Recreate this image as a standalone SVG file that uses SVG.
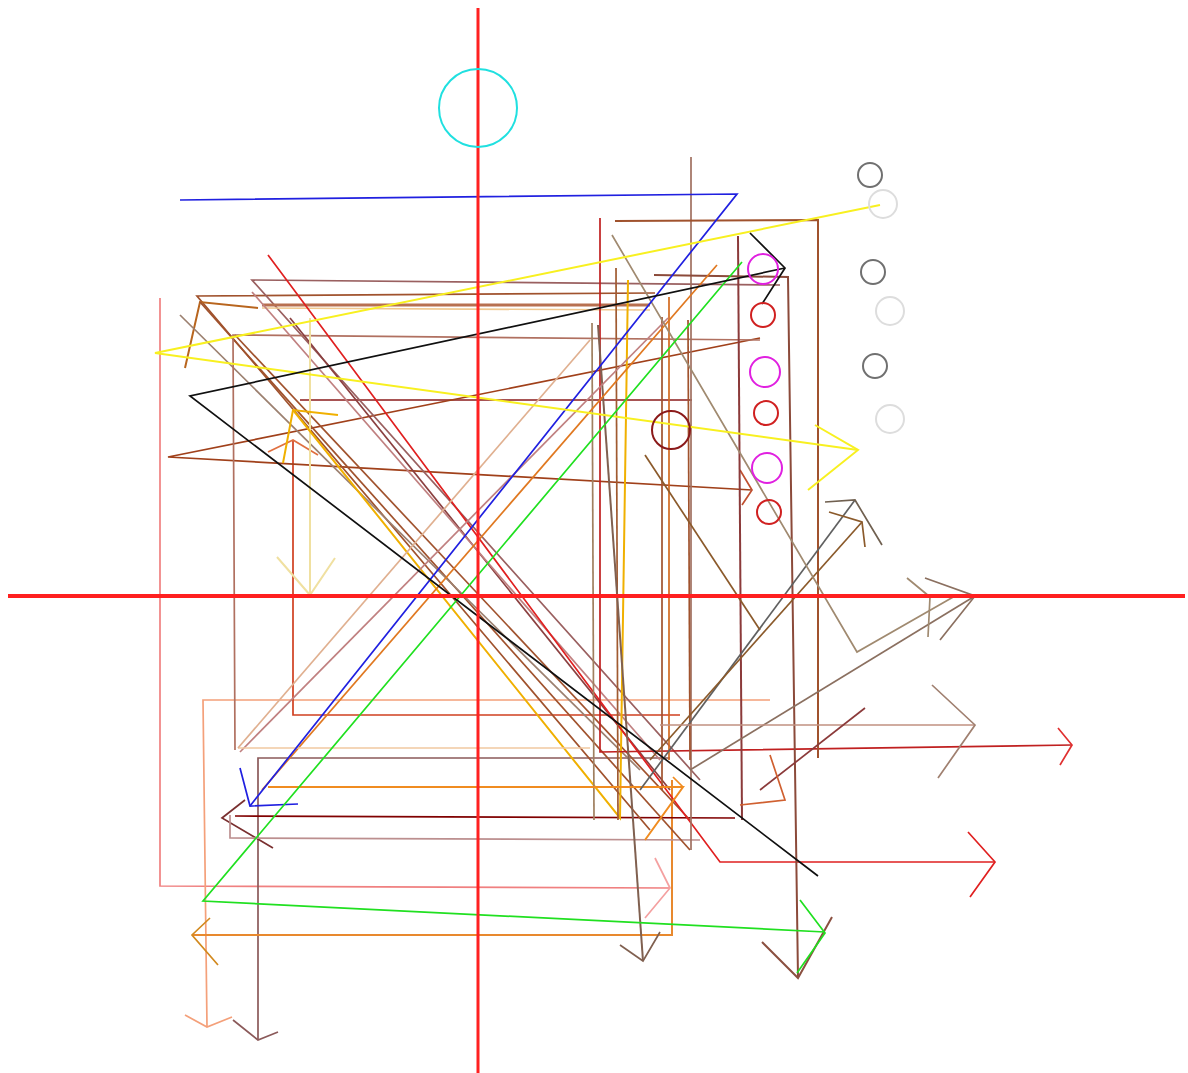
<svg xmlns="http://www.w3.org/2000/svg" width="1188" height="1073" viewBox="0 0 1188 1073">
<style>
.l{fill:none;stroke-width:1.7;stroke-linejoin:miter;stroke-linecap:butt}
.c{fill:none;stroke-width:2}
</style>
<rect width="1188" height="1073" fill="#ffffff"/>
<g id="connectors" class="l">
<polyline points="160,298 160,886 670,888" stroke="#f08080"/>
<polyline points="655,858 670,888 645,918" stroke="#f4a0a0"/>
<polyline points="770,700 203,700 207,1027" stroke="#f4a07a"/>
<polyline points="185,1015 207,1027 232,1017" stroke="#f4a07a"/>
<polyline points="670,758 258,758 258,1040" stroke="#8b5a5a"/>
<polyline points="233,1020 258,1040 278,1032" stroke="#8b5a5a"/>
<polyline points="672,780 672,935 192,935" stroke="#e8892e" stroke-width="2"/>
<polyline points="210,918 192,935 218,965" stroke="#d2891e"/>
<polyline points="735,818 235,816" stroke="#800000"/>
<polyline points="245,800 222,818 273,848" stroke="#7a3030"/>
<polyline points="230,815 230,838 700,840" stroke="#bc8f8f"/>
<polyline points="293,440 293,715 680,715" stroke="#d04020"/>
<polyline points="268,452 293,440 318,455" stroke="#e07040"/>
<line x1="300" y1="400" x2="692" y2="400" stroke="#8b1a1a"/>
<polyline points="760,338 168,457 752,490" stroke="#a0401a"/>
<polyline points="740,470 752,490 742,505" stroke="#c05030"/>
<polyline points="655,293 197,296 650,830" stroke="#a0522d"/>
<polyline points="780,285 252,280 700,780" stroke="#9a6060"/>
<polyline points="185,368 200,302 258,308" stroke="#b8651e" stroke-width="2"/>
<line x1="200" y1="302" x2="690" y2="850" stroke="#a0522d"/>
<line x1="180" y1="315" x2="640" y2="770" stroke="#9c8070"/>
<polyline points="760,340 233,335 235,750" stroke="#b07060"/>
<line x1="262" y1="305" x2="650" y2="305" stroke="#b87050" stroke-width="3"/>
<line x1="262" y1="308" x2="650" y2="310" stroke="#f0c890"/>
<line x1="290" y1="318" x2="670" y2="790" stroke="#8b4040"/>
<line x1="252" y1="292" x2="660" y2="760" stroke="#c08080"/>
<line x1="235" y1="335" x2="690" y2="820" stroke="#a0522d"/>
<line x1="310" y1="318" x2="310" y2="596" stroke="#f0e0a0" stroke-width="2"/>
<polyline points="277,557 310,595 335,558" stroke="#f0e0a0" stroke-width="2"/>
<polyline points="283,463 293,410 338,415" stroke="#f0b000" stroke-width="2"/>
<polyline points="293,410 620,818 628,280" stroke="#f0b000" stroke-width="2"/>
<polyline points="268,255 720,862 995,862" stroke="#e02020"/>
<polyline points="968,832 995,862 970,897" stroke="#e02020"/>
<polyline points="600,218 600,752 1072,745" stroke="#c02020"/>
<polyline points="1058,728 1072,745 1060,765" stroke="#e03030"/>
<line x1="691" y1="157" x2="691" y2="850" stroke="#a07060"/>
<polyline points="615,221 818,220 818,758" stroke="#a0522d" stroke-width="2"/>
<line x1="738" y1="236" x2="742" y2="820" stroke="#8b3a3a" stroke-width="2"/>
<polyline points="654,275 788,277 798,978" stroke="#8b4a3a" stroke-width="2"/>
<polyline points="762,942 798,978 832,917" stroke="#8b5040" stroke-width="2"/>
<line x1="616" y1="268" x2="618" y2="820" stroke="#a05a30"/>
<line x1="592" y1="323" x2="594" y2="820" stroke="#a08060"/>
<line x1="598" y1="325" x2="643" y2="961" stroke="#806050" stroke-width="2"/>
<polyline points="620,945 643,961 660,932" stroke="#806050"/>
<line x1="662" y1="317" x2="662" y2="790" stroke="#a0522d"/>
<line x1="669" y1="297" x2="669" y2="760" stroke="#d2691e"/>
<line x1="688" y1="320" x2="690" y2="760" stroke="#a0522d"/>
<line x1="262" y1="790" x2="717" y2="265" stroke="#e07820"/>
<line x1="240" y1="752" x2="668" y2="318" stroke="#c08080"/>
<line x1="238" y1="748" x2="590" y2="748" stroke="#f0c8a0" stroke-width="1.4"/>
<line x1="238" y1="748" x2="590" y2="340" stroke="#e0b090"/>
<polyline points="268,787 683,787 645,840" stroke="#f08c20" stroke-width="2"/>
<polyline points="673,777 683,787" stroke="#f08c20"/>
<line x1="640" y1="790" x2="855" y2="500" stroke="#606060"/>
<polyline points="825,502 855,500 882,545" stroke="#706050"/>
<line x1="650" y1="760" x2="862" y2="522" stroke="#8b5a2b"/>
<polyline points="829,512 862,522 865,547" stroke="#8b5a2b"/>
<polyline points="612,235 857,652 955,596" stroke="#a08a70"/>
<line x1="690" y1="770" x2="975" y2="596" stroke="#8b7060"/>
<polyline points="925,578 975,596 940,640" stroke="#8b7060"/>
<polyline points="907,578 930,597 928,637" stroke="#a08a70"/>
<line x1="660" y1="725" x2="975" y2="725" stroke="#c09080"/>
<polyline points="932,685 975,725 938,778" stroke="#a08070"/>
<line x1="865" y1="708" x2="760" y2="790" stroke="#8b3a3a"/>
<line x1="645" y1="455" x2="760" y2="630" stroke="#8b5a2b"/>
<polyline points="770,755 785,800 740,805" stroke="#d06030"/>
<polyline points="180,200 737,194 250,806" stroke="#2020e0"/>
<polyline points="240,768 250,806 298,804" stroke="#2020e0"/>
<polyline points="880,205 155,353 858,450" stroke="#f8f020" stroke-width="2"/>
<polyline points="815,425 858,450 808,490" stroke="#f8f020" stroke-width="2"/>
<polyline points="742,262 203,901 825,932" stroke="#20e020"/>
<polyline points="800,900 825,933 797,973" stroke="#20e020"/>
<polyline points="750,233 785,268 762,304" stroke="#101010"/>
<polyline points="785,268 190,396 818,876" stroke="#101010"/>
<line x1="478" y1="8" x2="478" y2="1073" stroke="#ff2020" stroke-width="3"/>
<line x1="8" y1="596" x2="1185" y2="596" stroke="#ff2020" stroke-width="4"/>
</g>
<g id="nodes">
<circle id="cyan" cx="478" cy="108" r="39" class="c" stroke="#20e0e0"/>
<circle id="g1" cx="870" cy="175" r="12" class="c" stroke="#707070"/>
<circle id="g2" cx="873" cy="272" r="12" class="c" stroke="#707070"/>
<circle id="g3" cx="875" cy="366" r="12" class="c" stroke="#707070"/>
<circle id="lg1" cx="883" cy="204" r="14" class="c" stroke="#dddddd"/>
<circle id="lg2" cx="890" cy="311" r="14" class="c" stroke="#dddddd"/>
<circle id="lg3" cx="890" cy="419" r="14" class="c" stroke="#dddddd"/>
<circle id="m1" cx="763" cy="269" r="15" class="c" stroke="#e020e0"/>
<circle id="m2" cx="765" cy="372" r="15" class="c" stroke="#e020e0"/>
<circle id="m3" cx="767" cy="468" r="15" class="c" stroke="#e020e0"/>
<circle id="r1" cx="763" cy="315" r="12" class="c" stroke="#d02020"/>
<circle id="r2" cx="766" cy="413" r="12" class="c" stroke="#d02020"/>
<circle id="r3" cx="769" cy="512" r="12" class="c" stroke="#d02020"/>
<circle id="dr" cx="671" cy="430" r="19" class="c" stroke="#8b1a1a"/>
</g>
</svg>
